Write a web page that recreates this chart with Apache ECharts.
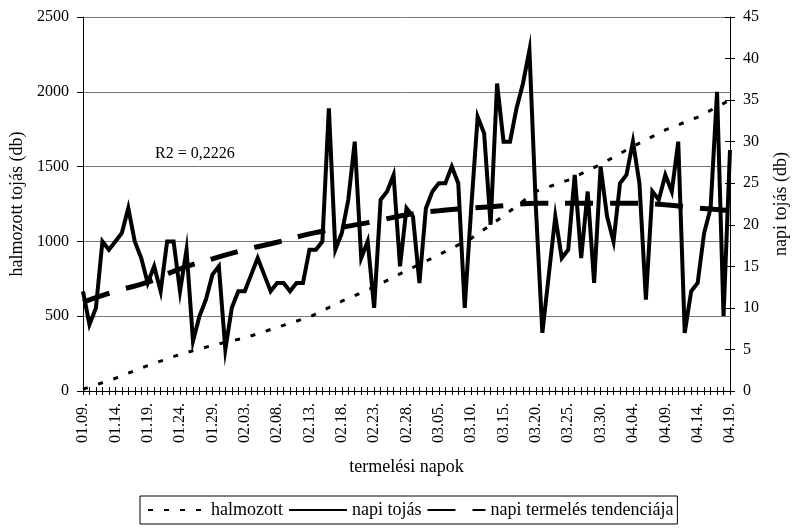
<!DOCTYPE html>
<html>
<head>
<meta charset="utf-8">
<script src="https://cdn.jsdelivr.net/npm/echarts@6/dist/echarts.min.js"></script>
<style>
html,body{margin:0;padding:0;background:#fff;}
#chart{width:798px;height:528px;}
</style>
</head>
<body>
<div id="chart"></div>
<script>
// Day categories (termelési napok)
var categories = [
 '01.09.','01.10.','01.11.','01.12.','01.13.','01.14.','01.15.','01.16.','01.17.','01.18.',
 '01.19.','01.20.','01.21.','01.22.','01.23.','01.24.','01.25.','01.26.','01.27.','01.28.',
 '01.29.','01.30.','01.31.','02.01.','02.02.','02.03.','02.04.','02.05.','02.06.','02.07.',
 '02.08.','02.09.','02.10.','02.11.','02.12.','02.13.','02.14.','02.15.','02.16.','02.17.',
 '02.18.','02.19.','02.20.','02.21.','02.22.','02.23.','02.24.','02.25.','02.26.','02.27.',
 '02.28.','03.01.','03.02.','03.03.','03.04.','03.05.','03.06.','03.07.','03.08.','03.09.',
 '03.10.','03.11.','03.12.','03.13.','03.14.','03.15.','03.16.','03.17.','03.18.','03.19.',
 '03.20.','03.21.','03.22.','03.23.','03.24.','03.25.','03.26.','03.27.','03.28.','03.29.',
 '03.30.','03.31.','04.01.','04.02.','04.03.','04.04.','04.05.','04.06.','04.07.','04.08.',
 '04.09.','04.10.','04.11.','04.12.','04.13.','04.14.','04.15.','04.16.','04.17.','04.18.',
 '04.19.'
];

// napi tojás (db) – daily eggs, right axis
var napiTojas = [
 12, 8,10,18,17,18,19,22,18,16,
 13,15,12,18,18,12,17, 6, 9,11,
 14,15, 5,10,12,12,14,16,14,12,
 13,13,12,13,13,17,17,18,34,17,
 19,23,30,16,18,10,23,24,26,15,
 22,21,13,22,24,25,25,27,25,10,
 22,33,31,20,37,30,30,34,37,41,
 22, 7,14,21,16,17,26,16,24,13,
 27,21,18,25,26,30,25,11,24,23,
 26,24,30, 7,12,13,19,22,36, 9,
 29
];

// halmozott (db) – cumulative, read every 5th day (day index, value), left axis
var halmozottIdx = [0,5,10,15,20,25,30,35,40,45,50,55,60,65,70,75,80,85,90,95,100];
var halmozottVal = [12,85,170,245,305,355,425,495,600,695,805,910,1020,1170,1335,1410,1515,1635,1745,1830,1945];

// napi termelés tendenciája – trend line, read every 5th day, right axis
var trendIdx = [0,5,10,15,20,25,30,35,40,45,50,55,60,65,70,75,80,85,90,95,100];
var trendVal = [10.7,12.0,13.1,14.7,15.9,17.0,17.9,18.9,19.7,20.4,21.2,21.7,22.0,22.3,22.6,22.6,22.6,22.6,22.4,22.0,21.7];

// Axis ticks
var leftTicks = {min:0, max:2500, interval:500};
var rightTicks = {min:0, max:45, interval:5};

var seriesNames = ['halmozott','napi tojás','napi termelés tendenciája'];
var r2Text = 'R2 = 0,2226';

var FONT = 'Liberation Serif';
var FS_TICK = 16;
var FS_NAME = 18;

function pairs(idx, vals){ return idx.map(function(d,i){ return [d, vals[i]]; }); }

var chart = echarts.init(document.getElementById('chart'), null, {renderer:'canvas'});
chart.setOption({
  animation:false,
  backgroundColor:'#fff',
  textStyle:{fontFamily:FONT, color:'#000'},
  grid:{left:83, right:60, top:17, bottom:137, containLabel:false},
  xAxis:[{
    type:'category', data:categories, boundaryGap:false, position:'bottom',
    axisLine:{lineStyle:{color:'#000', width:1}},
    axisTick:{show:true, interval:0, length:4, inside:false, lineStyle:{color:'#000'}},
    axisLabel:{interval:4, rotate:90, margin:12, fontFamily:FONT, fontSize:FS_TICK, color:'#000'},
    splitLine:{show:false},
    name:'termelési napok', nameLocation:'middle', nameGap:67,
    nameTextStyle:{fontFamily:FONT, fontSize:FS_NAME, color:'#000'}
  },{
    type:'category', data:categories, boundaryGap:false, position:'bottom',
    axisLine:{show:false},
    axisTick:{show:true, interval:0, length:4, inside:true, lineStyle:{color:'#000'}},
    axisLabel:{show:false}, splitLine:{show:false}
  }],
  yAxis:[{
    type:'value', position:'left', min:leftTicks.min, max:leftTicks.max, interval:leftTicks.interval,
    axisLine:{show:true, lineStyle:{color:'#000'}},
    axisTick:{show:true, length:6, lineStyle:{color:'#000'}},
    axisLabel:{margin:14, fontFamily:FONT, fontSize:FS_TICK, color:'#000',
      formatter:function(v){ return String(v); }},
    splitLine:{show:true, lineStyle:{color:'#777', width:1}},
    name:'halmozott tojás (db)', nameLocation:'middle', nameGap:56, nameRotate:90,
    nameTextStyle:{fontFamily:FONT, fontSize:FS_NAME, color:'#000'}
  },{
    type:'value', position:'right', min:rightTicks.min, max:rightTicks.max, interval:rightTicks.interval,
    axisLine:{show:true, lineStyle:{color:'#000'}},
    axisTick:{show:true, length:5, lineStyle:{color:'#000'}},
    axisLabel:{margin:13, fontFamily:FONT, fontSize:FS_TICK, color:'#000'},
    splitLine:{show:false},
    name:'napi tojás (db)', nameLocation:'middle', nameGap:42, nameRotate:90,
    nameTextStyle:{fontFamily:FONT, fontSize:FS_NAME, color:'#000'}
  },{
    type:'value', position:'right', min:rightTicks.min, max:rightTicks.max, interval:rightTicks.interval,
    axisLine:{show:false},
    axisTick:{show:true, length:5, inside:true, lineStyle:{color:'#000'}},
    axisLabel:{show:false}, splitLine:{show:false}
  }],
  legend:{
    data:seriesNames, left:140, top:496, orient:'horizontal',
    borderColor:'#000', borderWidth:1, borderRadius:0, padding:[5,4,5,7],
    itemGap:5, itemWidth:58, itemHeight:10,
    itemStyle:{opacity:0},
    textStyle:{fontFamily:FONT, fontSize:FS_NAME, color:'#000'}
  },
  graphic:[{
    type:'text', left:155, top:146,
    style:{text:r2Text, font: '16px "' + FONT + '"', fill:'#000'}
  }],
  series:[{
    name:seriesNames[0], type:'line', xAxisIndex:0, yAxisIndex:0,
    data:pairs(halmozottIdx, halmozottVal), symbol:'none', showSymbol:false,
    lineStyle:{color:'#000', width:3, type:[5,11]}, itemStyle:{color:'#000'}, z:3
  },{
    name:seriesNames[1], type:'line', xAxisIndex:0, yAxisIndex:1,
    data:napiTojas, symbol:'none', showSymbol:false,
    lineStyle:{color:'#000', width:4, join:'miter', miterLimit:10}, itemStyle:{color:'#000'}, z:4
  },{
    name:seriesNames[2], type:'line', xAxisIndex:0, yAxisIndex:1,
    data:pairs(trendIdx, trendVal), symbol:'none', showSymbol:false, smooth:true,
    lineStyle:{color:'#000', width:5, type:[28,17]}, itemStyle:{color:'#000'}, z:5
  }]
});
</script>
</body>
</html>
